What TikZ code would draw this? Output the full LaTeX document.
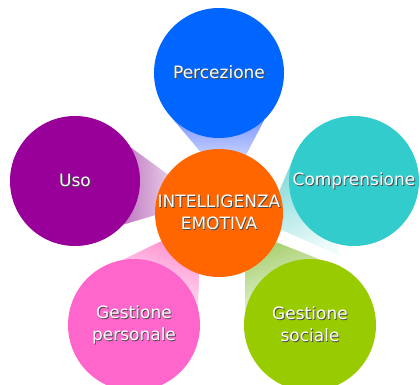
\documentclass[tikz,border=0pt]{standalone}
\usepackage{fontspec}
\setmainfont{DejaVu Sans}
\usetikzlibrary{%
    backgrounds,
    positioning
}
\definecolor{orangefill}{HTML}{FF6600}
\definecolor{bluefill}{HTML}{0066FF}
\definecolor{purplefill}{HTML}{990099}
\definecolor{tealfill}{HTML}{33CCCC}
\definecolor{pinkfill}{HTML}{FF66CC}
\definecolor{greenfill}{HTML}{99CC00}
\definecolor{bluelt}{HTML}{7A96FF}
\definecolor{bluepale}{HTML}{C4CEFF}
\definecolor{purplelt}{HTML}{BE78C0}
\definecolor{purplepale}{HTML}{E6C8E6}
\definecolor{teallt}{HTML}{8ADCDC}
\definecolor{tealpale}{HTML}{F0FBFB}
\definecolor{pinklt}{HTML}{FF92D2}
\definecolor{pinkpale}{HTML}{FFEEF8}
\definecolor{greenlt}{HTML}{A8D070}
\definecolor{greenpale}{HTML}{EEF6E4}
\definecolor{shadowgray}{HTML}{4A4A4A}
\newcommand\shtext[1]{\makebox[0pt][l]{\kern0.9pt\raisebox{-0.9pt}{\color{shadowgray}#1}}#1}
\tikzset{bubble/.style = {circle, inner sep=0pt, minimum size=130pt}}
\tikzset{bubbletext/.style = {text=white, align=center, inner sep=0pt,
    font=\fontsize{17}{22}\selectfont}}

\begin{document}
\begin{tikzpicture}[x=1pt, y=-1pt]
    \useasboundingbox (0,0) rectangle (420,385);
    \clip (0,0) rectangle (420,385);

    \node[bubble, fill=orangefill, minimum size=128pt,
        label={[bubbletext]center:{\shtext{INTELLIGENZA}\\\shtext{EMOTIVA}}}] (n-0) at (219,213) {};
    \node[bubble, fill=bluefill,
        label={[bubbletext]center:\shtext{Percezione}}] (n-1) at (219,73) {};
    \node[bubble, fill=purplefill,
        label={[bubbletext]center:\shtext{Uso}}] (n-2) at (75,181) {};
    \node[bubble, fill=tealfill,
        label={[bubbletext]center:\shtext{Comprensione}}] (n-3) at (354,181) {};
    \node[bubble, fill=pinkfill, minimum size=132pt,
        label={[bubbletext]center:{\shtext{Gestione}\\\shtext{personale}}}] (n-4) at (134,325) {};
    \node[bubble, fill=greenfill, minimum size=132pt,
        label={[bubbletext]center:{\shtext{Gestione}\\\shtext{sociale}}}] (n-5) at (310,325) {};
    \coordinate (tip-3) at (340,256);

    \begin{scope}[on background layer]
        \shade[top color=bluelt, bottom color=bluepale]
            (n-1.224) -- (n-1.314) -- (n-0.65) -- (n-0.107) -- cycle;
        \shade[left color=purplelt, right color=purplepale]
            (n-2.31) -- (n-0.143) -- (n-0.182) -- (n-2.318) -- cycle;
        \shade[top color=teallt, bottom color=tealpale, shading angle=25]
            (n-3.163) -- (n-0.20) -- (n-0.345) -- (tip-3) -- (n-3.255) -- cycle;
        \shade[top color=pinklt, bottom color=pinkpale, shading angle=-20]
            (n-4.100) -- (n-0.206) -- (n-0.252) -- (n-4.15) -- cycle;
        \shade[top color=greenlt, bottom color=greenpale, shading angle=20]
            (n-0.294) -- (n-0.333) -- (n-5.81) -- (n-5.168) -- cycle;
    \end{scope}
\end{tikzpicture}
\end{document}
